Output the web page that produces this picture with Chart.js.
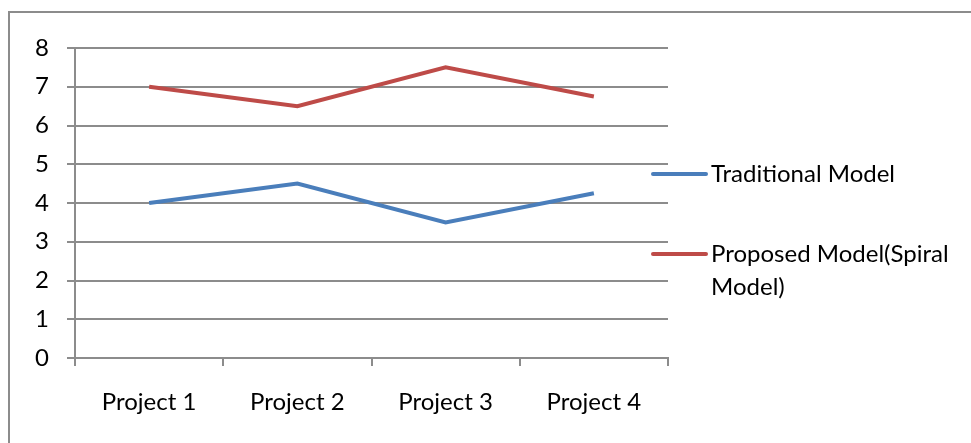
<!DOCTYPE html>
<html>
<head>
<meta charset="utf-8">
<script src="https://cdn.jsdelivr.net/npm/chart.js@4"></script>
<style>
  html, body { margin: 0; padding: 0; background: #fff; }
  #wrap { width: 971px; height: 443px; position: relative; }
</style>
</head>
<body>
<div id="wrap"><canvas id="chart"></canvas></div>
<script>
const categories = ['Project 1', 'Project 2', 'Project 3', 'Project 4'];
const traditional = [4, 4.5, 3.5, 4.25];
const proposed = [7, 6.5, 7.5, 6.75];
const seriesNames = ['Traditional Model', 'Proposed Model(Spiral Model)'];
const yTicks = [0, 1, 2, 3, 4, 5, 6, 7, 8];

const FONT = 'Lato, "Liberation Sans", sans-serif';
const gridGray = '#8c8c8c';

// outer frame + excel-style legend on the right
const frameAndLegend = {
  id: 'frameAndLegend',
  afterDraw(chart){
    const ctx = chart.ctx;
    ctx.save();
    ctx.strokeStyle = '#8c8c8c';
    ctx.lineWidth = 2;
    ctx.beginPath();
    ctx.moveTo(9, 460);
    ctx.lineTo(9, 12);
    ctx.lineTo(990, 12);
    ctx.stroke();

    ctx.font = '24px ' + FONT;
    ctx.fillStyle = '#000';
    ctx.textBaseline = 'middle';
    const rows = [174, 254];
    chart.data.datasets.forEach((ds, i) => {
      const y = rows[i];
      ctx.strokeStyle = ds.borderColor;
      ctx.lineWidth = 4;
      ctx.lineCap = 'round';
      ctx.beginPath();
      ctx.moveTo(653, y);
      ctx.lineTo(706, y);
      ctx.stroke();
      // simple word wrap
      const words = ds.label.split(' ');
      let line = '', ly = y;
      for (const w of words){
        const test = line ? line + ' ' + w : w;
        if (ctx.measureText(test).width > 252 && line){
          ctx.fillText(line, 711, ly);
          line = w; ly += 33;
        } else line = test;
      }
      ctx.fillText(line, 711, ly);
    });
    ctx.restore();
  }
};

new Chart(document.getElementById('chart'), {
  type: 'line',
  data: {
    labels: categories,
    datasets: [
      { label: seriesNames[0], data: traditional, borderColor: '#4a7ebb', borderWidth: 4, pointRadius: 0, tension: 0 },
      { label: seriesNames[1], data: proposed, borderColor: '#be4b48', borderWidth: 4, pointRadius: 0, tension: 0 }
    ]
  },
  options: {
    responsive: true,
    maintainAspectRatio: false,
    animation: false,
    layout: { padding: { left: 20, right: 303, top: 48, bottom: 0 } },
    plugins: { legend: { display: false }, tooltip: { enabled: false } },
    scales: {
      x: {
        offset: true,
        afterFit(s){ s.height = 85; },
        grid: { drawOnChartArea: false, drawTicks: true, tickLength: 8, color: gridGray, lineWidth: 2, offset: true },
        border: { color: gridGray, width: 2 },
        ticks: { color: '#000', font: { family: FONT, size: 24 }, padding: 22, maxRotation: 0 }
      },
      y: {
        min: 0, max: 8,
        afterFit(s){ s.width = 55; },
        afterBuildTicks(s){ s.ticks = yTicks.map(v => ({ value: v })); },
        grid: { color: gridGray, lineWidth: 2, tickLength: 8 },
        border: { color: gridGray, width: 2 },
        ticks: { color: '#000', font: { family: FONT, size: 24 }, padding: 18 }
      }
    }
  },
  plugins: [frameAndLegend]
});
</script>
</body>
</html>
